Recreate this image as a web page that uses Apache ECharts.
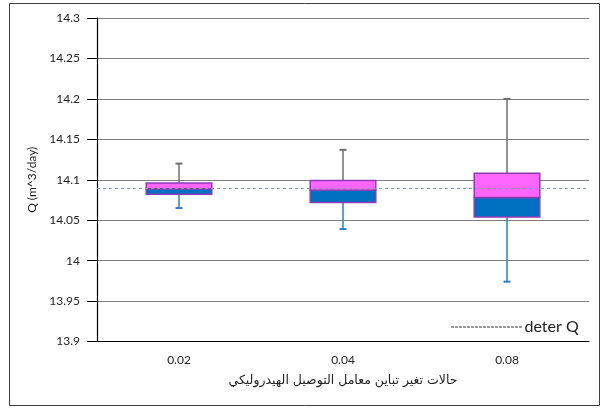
<!DOCTYPE html>
<html>
<head>
<meta charset="utf-8">
<script src="https://cdn.jsdelivr.net/npm/echarts@6/dist/echarts.min.js"></script>
<style>
  html, body { margin: 0; padding: 0; background: #fff; }
  #chart { width: 600px; height: 412px; }
</style>
</head>
<body>
<div id="chart"></div>
<script>
// Box-plot summary of Q for each hydraulic-conductivity variance case
var categories = ['0.02', '0.04', '0.08'];
var minValues = [14.065, 14.039, 13.974];
var q1Values = [14.082, 14.072, 14.054];
var medianValues = [14.089, 14.087, 14.078];
var q3Values = [14.096, 14.099, 14.108];
var maxValues = [14.120, 14.137, 14.200];
var deterQ = 14.09;
var yTicks = { min: 13.9, max: 14.3, interval: 0.05 };

var FONT = 'Lato, "Liberation Sans", "DejaVu Sans", sans-serif';

var boxData = categories.map(function (c, i) {
  return [i, minValues[i], q1Values[i], medianValues[i], q3Values[i], maxValues[i]];
});

// dashed legend swatch: 18 short dashes in a 72 x 1 box
var dashPath = 'path://';
for (var k = 0; k < 18; k++) {
  dashPath += 'M' + (k * 4) + ',0h3v1h-3z';
}

function renderBox(params, api) {
  var idx = api.value(0);
  var pMin = api.coord([idx, api.value(1)]);
  var pQ1 = api.coord([idx, api.value(2)]);
  var pMed = api.coord([idx, api.value(3)]);
  var pQ3 = api.coord([idx, api.value(4)]);
  var pMax = api.coord([idx, api.value(5)]);
  var bw = api.size([1, 0])[0] * 0.4;
  var cx = pMed[0];
  var cap = 3.5;
  var border = '#8e3cb5';
  return {
    type: 'group',
    children: [
      // upper whisker
      { type: 'line', shape: { x1: cx, y1: pQ3[1], x2: cx, y2: pMax[1] },
        style: { stroke: '#6f6f6f', lineWidth: 1.5 } },
      { type: 'line', shape: { x1: cx - cap, y1: pMax[1], x2: cx + cap, y2: pMax[1] },
        style: { stroke: '#6f6f6f', lineWidth: 2 } },
      // lower whisker
      { type: 'line', shape: { x1: cx, y1: pQ1[1], x2: cx, y2: pMin[1] },
        style: { stroke: '#2e7fc4', lineWidth: 1.5 } },
      { type: 'line', shape: { x1: cx - cap, y1: pMin[1], x2: cx + cap, y2: pMin[1] },
        style: { stroke: '#2e7fc4', lineWidth: 2 } },
      // lower half of box
      { type: 'rect', shape: { x: cx - bw / 2, y: pMed[1], width: bw, height: pQ1[1] - pMed[1] },
        style: { fill: '#0070c0', stroke: border, lineWidth: 1.5 } },
      // upper half of box
      { type: 'rect', shape: { x: cx - bw / 2, y: pQ3[1], width: bw, height: pMed[1] - pQ3[1] },
        style: { fill: '#ff66ff', stroke: border, lineWidth: 1.5 } }
    ]
  };
}

var chart = echarts.init(document.getElementById('chart'));
chart.setOption({
  animation: false,
  backgroundColor: '#fff',
  graphic: [{
    type: 'rect', left: 7, top: 1, z: -10,
    shape: { width: 590, height: 402 },
    style: { fill: 'none', stroke: '#404040', lineWidth: 1 }
  }],
  grid: { left: 97, right: 11, top: 18, bottom: 70.5 },
  legend: {
    show: true,
    left: 446, top: 314,
    icon: dashPath,
    itemWidth: 72, itemHeight: 1, itemGap: 4,
    itemStyle: { color: '#333', borderWidth: 0 },
    textStyle: { fontFamily: FONT, fontSize: 16, color: '#222', padding: [0, 0, 0, -3] },
    data: ['deter Q']
  },
  xAxis: {
    type: 'category',
    data: categories,
    boundaryGap: true,
    axisLine: { lineStyle: { color: '#000', width: 1.2 } },
    axisTick: { show: false },
    axisLabel: { fontFamily: FONT, fontSize: 12, color: '#222', margin: 13 },
    splitLine: { show: false },
    name: 'حالات تغير تباين معامل التوصيل الهيدروليكي',
    nameLocation: 'middle',
    nameGap: 33,
    nameTextStyle: { fontFamily: '"DejaVu Sans", sans-serif', fontSize: 12.5, color: '#222' }
  },
  yAxis: {
    type: 'value',
    min: yTicks.min, max: yTicks.max, interval: yTicks.interval,
    axisLine: { show: true, lineStyle: { color: '#000', width: 1.2 } },
    axisTick: { show: true, length: 10, lineStyle: { color: '#000' } },
    axisLabel: {
      fontFamily: FONT, fontSize: 12, color: '#222', margin: 17,
      formatter: function (v) { return String(Math.round(v * 100) / 100); }
    },
    splitLine: { show: true, lineStyle: { color: '#808080', width: 1.2 } },
    name: 'Q (m^3/day)',
    nameLocation: 'middle',
    nameGap: 57,
    nameTextStyle: { fontFamily: FONT, fontSize: 12, color: '#222' }
  },
  series: [
    {
      type: 'custom',
      name: 'box',
      renderItem: renderBox,
      data: boxData,
      encode: { x: 0, y: [1, 2, 3, 4, 5] },
      z: 3
    },
    {
      type: 'line',
      name: 'deter Q',
      data: [],
      symbol: 'none',
      color: '#333',
      lineStyle: { color: '#333', type: [3, 2], width: 1 },
      markLine: {
        silent: true,
        symbol: 'none',
        label: { show: false },
        lineStyle: { color: '#8a95b5', type: [3, 3], width: 1 },
        data: [{ yAxis: deterQ }]
      },
      z: 4
    }
  ]
});
</script>
</body>
</html>
